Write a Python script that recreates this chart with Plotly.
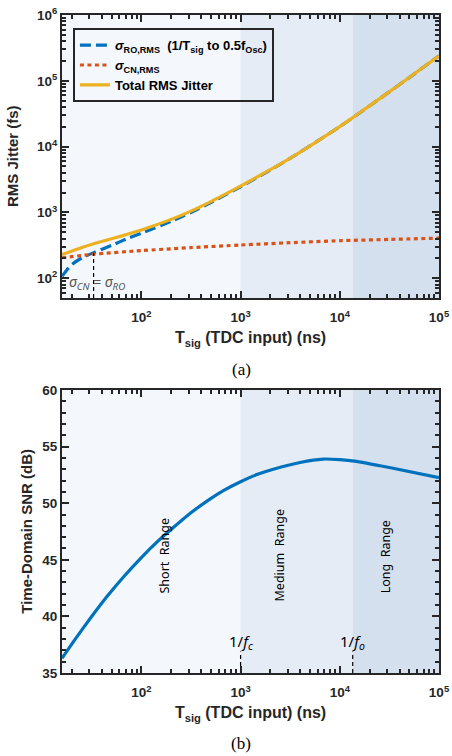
import numpy as np
import plotly.graph_objects as go

# ---------------- data ----------------
T_ro = [15.85, 17.8, 19.95, 25.1, 33.1, 50.1, 75.2, 100, 200, 316, 501, 1000, 1995, 3630, 10000, 14000, 30000, 50100, 100000]
ro_fs = [107, 135, 162, 204, 245, 316, 412, 484, 733, 1000, 1413, 2455, 4416, 7530, 20100, 28550, 64400, 112000, 239500]

T_cn = [15.85, 33.1, 100, 316, 1000, 3160, 10000, 31600, 100000]
cn_fs = [205, 232, 263, 292, 320, 347, 372, 389, 407]

T_tot = [15.85, 19.95, 33.1, 50.1, 100, 200, 316, 501, 1000, 1995, 3630, 10000, 14000, 30000, 50100, 100000]
tot_fs = [229, 260, 335, 398, 543, 785, 1047, 1462, 2512, 4467, 7586, 20180, 28640, 64570, 112200, 239900]

T_snr = [15.85, 22, 31, 45, 67, 100, 145, 220, 316, 470, 684, 1000, 1480, 2140, 3980, 6760, 10000, 14100, 31600, 100000]
snr_db = [36.3, 38.1, 39.9, 41.75, 43.55, 45.2, 46.6, 48.0, 49.15, 50.25, 51.15, 51.9, 52.55, 53.0, 53.6, 53.9, 53.85, 53.72, 53.15, 52.25]

T_cross = 33          # sigma_CN = sigma_RO
cross_fs = 245
f_c_T = 1000          # 1/f_c
f_o_T = 13500         # 1/f_o
T_min, T_max = 10**1.2, 1e5

x_ticks = [100, 1000, 10000, 100000]
x_ticktext = ["10<sup>2</sup>", "10<sup>3</sup>", "10<sup>4</sup>", "10<sup>5</sup>"]
y1_ticks = [100, 1000, 10000, 100000, 1000000]
y1_ticktext = ["10<sup>2</sup>", "10<sup>3</sup>", "10<sup>4</sup>", "10<sup>5</sup>", "10<sup>6</sup>"]
y2_ticks = [35, 40, 45, 50, 55, 60]

# ---------------- styling ----------------
BLUE = "#0072BD"
ORANGE = "#D95319"
YELLOW = "#EDB120"
AX = "#262626"
C_SHORT = "#F4F8FC"
C_MED = "#E5ECF6"
C_LONG = "#D5E0EF"
FONT = "Liberation Sans, Arial, sans-serif"

fig = go.Figure()

fig.add_trace(go.Scatter(
    x=T_ro, y=ro_fs, mode="lines", line=dict(color=BLUE, width=3.2, dash="11px,5px", shape="spline", smoothing=0.5),
    name="<b><i>σ</i><sub>RO,RMS</sub></b>  <b>(1/T<sub>sig</sub> to 0.5f<sub>Osc</sub>)</b>",
    xaxis="x", yaxis="y"))
fig.add_trace(go.Scatter(
    x=T_cn, y=cn_fs, mode="lines", line=dict(color=ORANGE, width=3.2, dash="4px,3.5px", shape="spline", smoothing=0.5),
    name="<b><i>σ</i><sub>CN,RMS</sub></b>", xaxis="x", yaxis="y"))
fig.add_trace(go.Scatter(
    x=T_tot, y=tot_fs, mode="lines", line=dict(color=YELLOW, width=3.2, shape="spline", smoothing=0.5),
    name="<b>Total RMS Jitter</b>", xaxis="x", yaxis="y"))

fig.add_trace(go.Scatter(
    x=T_snr, y=snr_db, mode="lines", line=dict(color=BLUE, width=3.2, shape="spline", smoothing=0.5),
    showlegend=False, xaxis="x2", yaxis="y2"))

# dashed guide lines
fig.add_trace(go.Scatter(x=[T_cross, T_cross], y=[10**1.7, cross_fs], mode="lines",
                         line=dict(color="black", width=1.2, dash="4px,3px"), showlegend=False,
                         xaxis="x", yaxis="y"))
for tv in (f_c_T, f_o_T):
    fig.add_trace(go.Scatter(x=[tv, tv], y=[35, 36.9], mode="lines",
                             line=dict(color="black", width=1.2, dash="4px,3px"), showlegend=False,
                             xaxis="x2", yaxis="y2"))

# background regions
shapes = []
for xa, ya in (("x", "y"), ("x2", "y2")):
    shapes.append(dict(type="rect", xref=xa, yref=ya + " domain", x0=f_c_T, x1=f_o_T, y0=0, y1=1,
                       fillcolor=C_MED, line=dict(width=0), layer="below"))
    shapes.append(dict(type="rect", xref=xa, yref=ya + " domain", x0=f_o_T, x1=T_max, y0=0, y1=1,
                       fillcolor=C_LONG, line=dict(width=0), layer="below"))

common = dict(showline=True, linewidth=2, linecolor=AX, mirror="ticks",
              ticks="inside", ticklen=7, tickwidth=2, tickcolor=AX, showgrid=False, zeroline=False,
              automargin=False, ticklabeloverflow="allow",
              tickfont=dict(family=FONT, size=13.5, color=AX, weight="bold"))
minor_log = dict(dtick="D1", ticks="inside", ticklen=4, tickwidth=1.5, tickcolor=AX, showgrid=False)
common_x = dict(common, type="log", range=[np.log10(T_min), np.log10(T_max)], tickmode="array",
                tickvals=x_ticks, ticktext=x_ticktext, minor=minor_log, ticklabelstandoff=6)

xt = "<b>T<sub>sig</sub> (TDC input) (ns)</b>"
fig.update_layout(
    width=452, height=756,
    margin=dict(l=62, r=13, t=15, b=83),
    paper_bgcolor="white", plot_bgcolor=C_SHORT,
    font=dict(family=FONT, color=AX),
    shapes=shapes,
    xaxis=dict(common_x, domain=[0, 1], anchor="y",
               title=dict(text=xt, font=dict(size=16, family=FONT, color=AX), standoff=8)),
    yaxis=dict(common, type="log", domain=[0.5699, 1], anchor="x", range=[1.7, 6], tickmode="array",
               tickvals=y1_ticks, ticktext=y1_ticktext, minor=minor_log),
    xaxis2=dict(common_x, domain=[0, 1], anchor="y2",
                title=dict(text=xt, font=dict(size=16, family=FONT, color=AX), standoff=8)),
    yaxis2=dict(common, domain=[0, 0.4301], anchor="x2", range=[35, 60], tickmode="array", tickvals=y2_ticks,
                minor=dict(dtick=1, ticks="inside", ticklen=4, tickwidth=1.5, tickcolor=AX, showgrid=False)),
    legend=dict(x=0.029, y=0.980, xanchor="left", yanchor="top", bgcolor="rgba(0,0,0,0)",
                bordercolor=AX, borderwidth=2, font=dict(family=FONT, size=13, color="black"),
                itemwidth=30, tracegroupgap=0),
    showlegend=True,
)

ann = []
# y-axis titles
ann.append(dict(x=-0.131, y=0.785, xref="paper", yref="paper", showarrow=False, textangle=-90,
                xanchor="center", yanchor="middle",
                text="<b>RMS Jitter (fs)</b>", font=dict(size=15, family=FONT, color=AX)))
ann.append(dict(x=-0.095, y=0.215, xref="paper", yref="paper", showarrow=False, textangle=-90,
                xanchor="center", yanchor="middle",
                text="<b>Time-Domain SNR (dB)</b>", font=dict(size=15, family=FONT, color=AX)))
ann.append(dict(x=np.log10(35.5), y=1.935, xref="x", yref="y", showarrow=False,
                text="σ<sub>CN</sub> = σ<sub>RO</sub>",
                font=dict(family="Noto Sans", size=14, color="#555555", style="italic")))
for txt, xv in (("1/<i>f</i><sub><i>c</i></sub>", f_c_T), ("1/<i>f</i><sub><i>o</i></sub>", f_o_T)):
    ann.append(dict(x=np.log10(xv), y=37.75, xref="x2", yref="y2", showarrow=False, text=txt,
                    xanchor="center", font=dict(family="Noto Sans", size=15, color="black")))
for txt, xv, yv in (("Short  Range", 170, 45.4), ("Medium  Range", 2450, 45.4), ("Long  Range", 29500, 45.25)):
    ann.append(dict(x=np.log10(xv), y=yv, xref="x2", yref="y2", showarrow=False, text=txt, textangle=-90,
                    font=dict(family="Noto Sans", size=12.5, color="black")))
ann.append(dict(x=0.475, y=0.4605, xref="paper", yref="paper", showarrow=False, text="(a)",
                xanchor="center", yanchor="middle",
                font=dict(family="Liberation Serif", size=17, color="black")))
ann.append(dict(x=0.475, y=-0.1064, xref="paper", yref="paper", showarrow=False, text="(b)",
                xanchor="center", yanchor="middle",
                font=dict(family="Liberation Serif", size=17, color="black")))
fig.update_layout(annotations=ann)

fig.write_html("out.html", config={"displayModeBar": False},
               post_script="document.body.style.margin='0px';document.body.style.padding='0px';")
